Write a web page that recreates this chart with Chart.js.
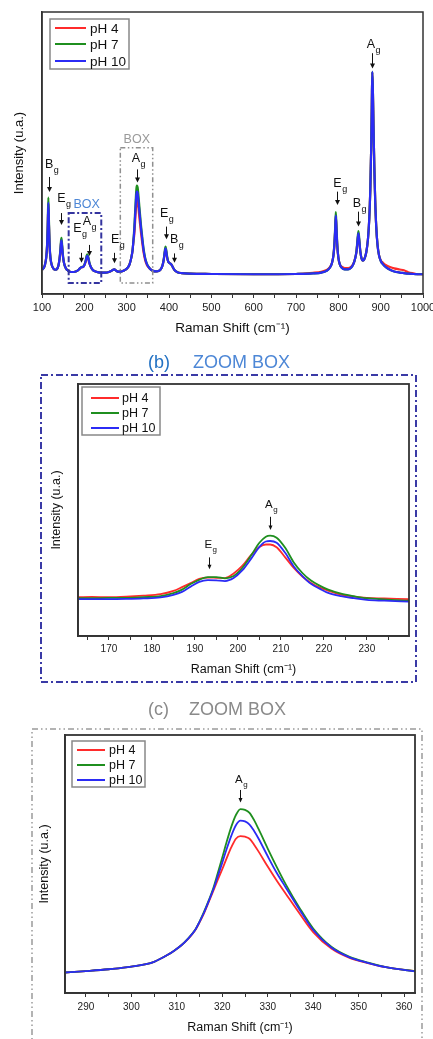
<!DOCTYPE html>
<html><head><meta charset="utf-8">
<script src="https://cdn.jsdelivr.net/npm/chart.js@4.4.1/dist/chart.umd.min.js"></script>
<style>
html,body{margin:0;padding:0;background:#fff}
body{width:433px;height:1039px;overflow:hidden;position:relative;font-family:"Liberation Sans",Arial,sans-serif}
canvas{position:absolute;left:0}
.t{position:absolute;font-size:18px;line-height:20px;white-space:nowrap;z-index:2}
</style>
</head><body>
<canvas id="ca" width="433" height="345" style="top:0"></canvas>
<canvas id="cb" width="433" height="345" style="top:345px"></canvas>
<canvas id="cc" width="433" height="349" style="top:690px"></canvas>
<div class="t" style="left:148px;top:352px;color:#2271c3">(b)</div>
<div class="t" style="left:193px;top:352px;color:#4d87d6">ZOOM BOX</div>
<div class="t" style="left:148px;top:699px;color:#8a8a8a">(c)</div>
<div class="t" style="left:189px;top:699px;color:#8a8a8a">ZOOM BOX</div>
<script>
// ---------- DATA ----------
const seriesLabels = ['pH 4', 'pH 7', 'pH 10'];
const xTitle = 'Raman Shift (cm\u207B\u00B9)';
const yTitle = 'Intensity (u.a.)';

// Panel (a): full spectrum
const shiftA = [100,104,107,110,112,113.5,115,116.5,118,120,
  123,127,132,136,139,141.5,143.5,145,146,147.5,
  149.5,152,156,162,170,178,184,189,193,197,
  200,203,205.5,207,209,212,216,221,228,238,
  250,258,264,268,271,275,280,286,292,298,
  303,307,311,314,316,318,320,322,323,324,
  325,326,328,330,332,334,337,340,344,348,
  352,356,362,370,377,382,385.5,388,390,391.8,
  393.5,395.5,398,401,404,407,410,414,420,430,
  450,500,600,700,740,760,772,780,785,788.5,
  790.5,792.5,794,795.5,797.5,800,803.5,808,815,823,
  830,835.5,840,843,845.5,847.5,849.5,852,855,858,
  862,866,870,873,875.5,877.5,879,880.2,881.5,883,
  885,887,889.5,892.5,896,900,906,913,922,932,
  945,955,965,978,990,1000];
const pH4_A = [8.6,9.2,10.4,13.0,17.0,23.3,32.0,24.0,16.7,12.6,
  10.3,9.0,8.6,9.0,10.2,12.5,15.3,18.0,18.8,16.6,
  13.2,11.0,9.2,8.2,7.8,7.9,8.3,9.0,9.5,9.6,
  10.2,11.4,12.9,13.3,12.7,10.8,9.4,8.4,7.9,7.6,
  7.6,7.8,8.2,8.6,8.7,8.3,7.9,7.9,8.2,8.7,
  9.4,10.6,12.9,15.5,18.7,21.0,25.7,30.6,32.4,33.3,
  33.2,32.7,30.2,27.1,24.2,21.5,17.9,14.7,11.8,10.2,
  9.4,8.8,8.2,8.0,8.3,9.1,10.6,12.5,14.6,16.0,
  14.9,13.0,11.6,11.0,10.7,10.1,9.2,8.3,7.7,7.4,
  7.2,7.1,7.0,7.1,7.5,7.9,8.5,9.5,11.0,13.8,
  16.8,22.2,27.3,23.2,17.0,13.0,10.5,9.7,9.2,9.2,
  9.6,10.7,12.8,15.1,19.0,21.3,18.6,15.0,12.5,11.8,
  12.6,14.8,19.5,26.5,37.0,51.0,66.0,78.5,72.8,60.0,
  45.0,33.5,24.0,17.5,13.8,12.0,11.0,10.2,9.6,9.1,
  8.7,8.4,7.7,7.3,7.0,7.0];
const pH7_A = [8.6,9.2,10.4,13.0,17.5,24.5,34.2,25.5,17.5,13.0,
  10.3,9.0,8.6,9.0,10.2,12.5,16.0,19.0,19.9,17.5,
  13.8,11.0,9.2,8.2,7.8,7.9,8.3,9.0,9.6,9.7,
  10.3,11.8,13.6,14.1,13.4,11.2,9.4,8.4,7.9,7.6,
  7.6,7.8,8.2,8.6,8.7,8.3,7.9,7.9,8.2,8.7,
  9.4,10.6,12.9,15.7,19.1,23.5,29.2,35.1,37.3,38.4,
  38.2,37.7,34.6,31.0,27.5,24.2,19.9,16.0,12.6,10.7,
  9.6,8.8,8.2,8.0,8.3,9.1,10.6,12.8,15.3,16.8,
  15.6,13.4,11.6,11.0,10.7,10.1,9.2,8.3,7.7,7.4,
  7.2,7.1,7.0,7.1,7.3,7.6,8.2,9.3,11.0,13.8,
  17.5,23.5,29.0,24.5,17.8,13.0,10.5,9.3,8.7,8.7,
  9.3,10.6,12.8,15.5,19.8,22.3,19.5,15.0,12.5,11.8,
  12.6,14.8,19.5,26.5,37.0,51.0,66.0,78.8,73.0,60.0,
  45.0,33.5,24.0,17.5,13.8,11.8,10.4,9.4,8.6,8.0,
  7.6,7.4,7.2,7.1,7.0,7.0];
const pH10_A = [8.6,9.2,10.4,13.0,17.0,23.5,32.4,24.2,16.8,12.6,
  10.3,9.0,8.6,9.0,10.2,12.5,15.4,18.2,19.0,16.8,
  13.3,11.0,9.2,8.2,7.8,7.9,8.3,9.0,9.5,9.6,
  10.2,11.5,13.1,13.5,12.9,10.9,9.4,8.4,7.9,7.6,
  7.6,7.8,8.2,8.6,8.7,8.3,7.9,7.9,8.2,8.7,
  9.4,10.6,12.9,15.6,18.9,22.4,27.8,33.3,35.3,36.3,
  36.2,35.6,32.8,29.4,26.2,23.1,19.1,15.5,12.3,10.5,
  9.5,8.8,8.2,8.0,8.3,9.1,10.6,12.5,14.8,16.2,
  15.1,13.0,11.6,11.0,10.7,10.1,9.2,8.3,7.7,7.4,
  7.2,7.1,7.0,7.1,7.3,7.6,8.2,9.3,11.0,13.8,
  17.0,22.6,27.8,23.6,17.2,13.0,10.5,9.3,8.7,8.7,
  9.3,10.6,12.8,15.1,19.2,21.5,18.8,15.0,12.5,11.8,
  12.6,14.8,19.5,26.5,37.0,51.0,66.0,78.8,73.0,60.0,
  45.0,33.5,24.0,17.5,13.8,11.8,10.4,9.4,8.6,8.0,
  7.6,7.4,7.2,7.1,7.0,7.0];

// Panel (b): zoom 163-240 cm-1
const shiftB = [163,166,170,174,178,182,185,187,189,191,193,195,197,199,201,203,205,206.5,207.5,209,211,213,215,217,219,221,224,227,230,234,240];
const pH4_B  = [15.4,15.5,15.4,15.6,16.0,16.6,17.9,19.4,21.0,22.7,23.2,23.1,23.0,24.8,27.8,32.0,35.3,36.3,36.3,35.2,31.2,27.0,23.6,21.0,19.2,18.0,16.4,15.6,15.1,14.9,14.6];
const pH7_B  = [15.0,15.0,15.1,15.1,15.4,15.8,17.0,18.4,20.6,22.3,23.4,23.4,22.9,23.8,27.0,31.8,37.0,39.4,39.8,39.0,35.0,29.2,25.0,22.0,20.0,18.4,16.8,15.8,15.0,14.5,14.0];
const pH10_B = [14.6,14.6,14.6,14.7,14.9,15.3,16.3,17.5,19.6,21.5,22.2,22.1,21.8,23.0,26.0,30.5,35.4,37.5,37.7,37.0,33.0,27.6,23.8,20.7,18.8,17.1,15.8,15.0,14.3,14.0,13.6];

// Panel (c): zoom 285-362 cm-1
const shiftC = [285,290,295,300,305,308,309.5,311,312.5,314,315,316,317,318,319,320,321,322,323,324,325,326,327,328,330,332,334,337,340,344,348,352,356,363];
const pH4_C  = [7.9,8.5,9.2,10.2,12.1,14.8,16.5,18.5,21.0,24.2,27.4,31.0,35.2,39.5,43.8,48.0,52.4,56.5,59.8,60.8,60.6,59.8,57.5,54.8,49.0,43.5,38.4,30.8,23.6,17.2,13.6,11.6,10.0,8.3];
const pH7_C  = [7.9,8.5,9.2,10.2,12.1,14.8,16.5,18.5,21.2,24.4,27.7,31.5,35.8,40.5,46.4,52.5,58.8,64.5,69.0,71.3,71.0,69.8,67.0,63.5,56.0,48.8,42.0,33.0,25.0,17.9,14.0,11.8,10.0,8.3];
const pH10_C = [7.9,8.5,9.2,10.2,12.1,14.8,16.5,18.5,21.1,24.3,27.6,31.2,35.5,40.0,45.2,50.5,56.0,61.0,65.0,66.8,66.5,65.3,62.8,59.8,53.0,46.5,40.8,32.3,24.4,17.6,13.8,11.7,10.0,8.2];

// Peak labels (label anchor, arrow x, arrow top, arrow tip) in data units
const peaksA = [
  {t:'B', lx:107.1, ly:44.7, x:115.8, top:41.5, tip:36.2},
  {t:'E', lx:136.1, ly:32.7, x:144.9, top:28.7, tip:24.5},
  {t:'E', lx:173.9, ly:22.0, x:191.4, top:14.6, tip:11.1},
  {t:'A', lx:196.1, ly:24.5, x:210.3, top:17.4, tip:13.5},
  {t:'E', lx:263.0, ly:18.0, x:270.1, top:14.6, tip:10.9},
  {t:'A', lx:311.9, ly:46.9, x:325.1, top:44.2, tip:39.5},
  {t:'E', lx:378.7, ly:27.4, x:392.2, top:23.9, tip:19.4},
  {t:'B', lx:402.4, ly:18.0, x:412.5, top:14.4, tip:11.1},
  {t:'E', lx:788.1, ly:38.1, x:796.1, top:36.3, tip:31.6},
  {t:'B', lx:833.9, ly:31.0, x:847.2, top:29.2, tip:23.9},
  {t:'A', lx:867.0, ly:87.1, x:880.2, top:85.4, tip:80.0}
];
const peaksB = [
  {t:'E', lx:192.2, ly:34.8, x:193.2, top:31.2, tip:26.5},
  {t:'A', lx:206.3, ly:50.7, x:207.4, top:47.3, tip:42.1}
];
const peaksC = [
  {t:'A', lx:322.8, ly:81.5, x:323.9, top:78.7, tip:73.8}
];
// zoom boxes drawn on panel (a), data units
const zoomBoxes = [
  {x0:163, x1:240, y0:3.9, y1:28.7, lx:205.6, ly:30.4, kind:'b'},
  {x0:285, x1:361.5, y0:3.9, y1:51.9, lx:323.9, ly:53.7, kind:'c'}
];

// ---------- RENDERING ----------
const FONT = '"Liberation Sans", Arial, Helvetica, sans-serif';
Chart.defaults.font.family = FONT;
Chart.defaults.color = '#222';
const COLORS = ['#ff2b2b', '#1f8f1f', '#2b2bf5'];
const BOXSTYLE = {
  b: {color:'#34349f', lw:2, dash:[6,2.5,2,2.5], text:'#4d87d6'},
  c: {color:'#8f8f8f', lw:1.5, dash:[5,2.5,1.5,2.5,1.5,2.5], text:'#999999'}
};

function makeDeco(cfg) {
  return {
    id: 'deco',
    beforeDraw(chart) {
      if (!cfg.outer) return;
      const c = chart.ctx, o = cfg.outer;
      c.save(); c.strokeStyle = o.color; c.lineWidth = o.lw; c.setLineDash(o.dash);
      c.strokeRect(o.rect[0], o.rect[1], o.rect[2], o.rect[3]); c.restore();
    },
    afterDraw(chart) {
      const ctx = chart.ctx, a = chart.chartArea, xs = chart.scales.x, ys = chart.scales.y;
      ctx.save();
      ctx.setLineDash([]);
      ctx.strokeStyle = '#333'; ctx.lineWidth = cfg.frameW;
      ctx.strokeRect(a.left, a.top, a.right - a.left, a.bottom - a.top);
      (cfg.boxes || []).forEach(b => {
        const st = BOXSTYLE[b.kind];
        const x0 = xs.getPixelForValue(b.x0), x1 = xs.getPixelForValue(b.x1);
        const y0 = ys.getPixelForValue(b.y0), y1 = ys.getPixelForValue(b.y1);
        ctx.strokeStyle = st.color; ctx.lineWidth = st.lw; ctx.setLineDash(st.dash);
        ctx.strokeRect(x0, y1, x1 - x0, y0 - y1);
        ctx.setLineDash([]);
        ctx.fillStyle = st.text; ctx.font = '12.5px ' + FONT;
        ctx.textAlign = 'center'; ctx.textBaseline = 'alphabetic';
        ctx.fillText('BOX', xs.getPixelForValue(b.lx), ys.getPixelForValue(b.ly));
      });
      ctx.textAlign = 'left';
      (cfg.peaks || []).forEach(p => {
        const ax = Math.round(xs.getPixelForValue(p.x)) + 0.5;
        const top = ys.getPixelForValue(p.top), tip = ys.getPixelForValue(p.tip);
        ctx.strokeStyle = '#111'; ctx.fillStyle = '#111'; ctx.lineWidth = 1;
        ctx.beginPath(); ctx.moveTo(ax, top); ctx.lineTo(ax, tip - 3); ctx.stroke();
        const hw = cfg.headW;
        ctx.beginPath(); ctx.moveTo(ax - hw, tip - cfg.headH); ctx.lineTo(ax + hw, tip - cfg.headH);
        ctx.lineTo(ax, tip); ctx.closePath(); ctx.fill();
        const lx = xs.getPixelForValue(p.lx), ly = ys.getPixelForValue(p.ly);
        ctx.font = cfg.peakFont + 'px ' + FONT; ctx.textBaseline = 'alphabetic';
        ctx.fillText(p.t, lx, ly);
        const w = ctx.measureText(p.t).width;
        ctx.font = cfg.subFont + 'px ' + FONT;
        ctx.fillText('g', lx + w + 0.5, ly + cfg.subDrop);
      });
      const lg = cfg.legend;
      const bx = a.left + lg.dx, by = a.top + lg.dy;
      ctx.fillStyle = '#fff'; ctx.fillRect(bx, by, lg.w, lg.h);
      ctx.strokeStyle = '#888'; ctx.lineWidth = 1.5; ctx.strokeRect(bx, by, lg.w, lg.h);
      chart.data.datasets.forEach((ds, i) => {
        const yy = by + lg.rows[i];
        ctx.strokeStyle = ds.borderColor; ctx.lineWidth = 2;
        ctx.beginPath(); ctx.moveTo(bx + lg.l0, yy); ctx.lineTo(bx + lg.l1, yy); ctx.stroke();
        ctx.fillStyle = '#111'; ctx.font = lg.font + 'px ' + FONT; ctx.textBaseline = 'middle';
        ctx.fillText(ds.label, bx + lg.tx, yy + 1);
      });
      ctx.restore();
    }
  };
}

function build(id, cfg) {
  const W = 433;
  const datasets = cfg.series.map((ys, i) => ({
    label: seriesLabels[i],
    data: cfg.xs.map((x, j) => ({x: x, y: ys[j]})),
    borderColor: COLORS[i], backgroundColor: COLORS[i],
    borderWidth: cfg.lw, pointRadius: 0, fill: false,
    cubicInterpolationMode: 'monotone', order: 3 - i
  }));
  const ls = cfg.labelStep;
  return new Chart(document.getElementById(id), {
    type: 'line',
    data: {datasets},
    options: {
      responsive: false, animation: false, events: [],
      layout: {padding: {left: 0, top: cfg.area.t, right: W - cfg.area.r, bottom: 0}},
      plugins: {legend: {display: false}, tooltip: {enabled: false}},
      scales: {
        x: {
          type: 'linear', min: cfg.xmin, max: cfg.xmax,
          ticks: {stepSize: cfg.step, autoSkip: false, maxRotation: 0, includeBounds: false,
            font: {size: cfg.tickFont}, color: '#222', padding: cfg.tickPad,
            callback: v => { const r = Math.abs(v % ls); return (r < 1e-6 || Math.abs(r - ls) < 1e-6) ? String(Math.round(v)) : ''; }},
          grid: {display: true, drawOnChartArea: false, drawTicks: true, tickLength: 4, color: '#333', tickColor: '#333', tickWidth: 1},
          border: {display: true, color: '#333', width: cfg.frameW},
          title: {display: true, text: xTitle, font: {size: cfg.titleFont}, color: '#111', padding: {top: 0, bottom: cfg.xTitlePad}},
          afterFit: s => { s.height = cfg.H - cfg.area.b; s.paddingLeft = 0; s.paddingRight = 0; }
        },
        y: {
          type: 'linear', min: 0, max: 100,
          ticks: {display: false},
          grid: {display: false},
          border: {display: true, color: '#333', width: cfg.frameW},
          title: {display: true, text: yTitle, font: {size: cfg.yTitleFont}, color: '#111', padding: {top: cfg.yTitlePad, bottom: 0}},
          afterFit: s => { s.width = cfg.area.l; s.paddingTop = 0; s.paddingBottom = 0; }
        }
      }
    },
    plugins: [makeDeco(cfg)]
  });
}

build('ca', {
  xs: shiftA, series: [pH4_A, pH7_A, pH10_A], lw: 2.2,
  xmin: 100, xmax: 1000, step: 50, labelStep: 100,
  H: 345, area: {l: 42, t: 12, r: 423, b: 294},
  tickFont: 11, tickPad: 3, titleFont: 13.5, xTitlePad: 9, yTitleFont: 13, yTitlePad: 12,
  frameW: 1.5, peaks: peaksA, peakFont: 12.5, subFont: 9, subDrop: 5, headW: 2.5, headH: 5,
  boxes: zoomBoxes,
  legend: {dx: 8, dy: 7, w: 79, h: 50, rows: [9, 25, 42], l0: 5, l1: 36, tx: 40, font: 13.5}
});
build('cb', {
  xs: shiftB, series: [pH4_B, pH7_B, pH10_B], lw: 1.8,
  xmin: 162.8, xmax: 239.8, step: 5, labelStep: 10,
  H: 345, area: {l: 78, t: 39, r: 409, b: 291},
  tickFont: 10, tickPad: 3, titleFont: 12.5, xTitlePad: 12.5, yTitleFont: 12.5, yTitlePad: 49,
  frameW: 1.8, peaks: peaksB, peakFont: 11.5, subFont: 8, subDrop: 4, headW: 2, headH: 4.5,
  legend: {dx: 4, dy: 3, w: 78, h: 48, rows: [11, 26, 41], l0: 9, l1: 37, tx: 40, font: 12.5},
  outer: {rect: [41, 30, 375, 307], color: '#3a3aa6', lw: 2, dash: [7, 3, 2, 3]}
});
build('cc', {
  xs: shiftC, series: [pH4_C, pH7_C, pH10_C], lw: 1.8,
  xmin: 285.4, xmax: 362.4, step: 5, labelStep: 10,
  H: 349, area: {l: 65, t: 45, r: 415, b: 303},
  tickFont: 10, tickPad: 4, titleFont: 12.5, xTitlePad: 3.5, yTitleFont: 12.5, yTitlePad: 37,
  frameW: 1.8, peaks: peaksC, peakFont: 11.5, subFont: 8, subDrop: 4, headW: 2, headH: 4.5,
  legend: {dx: 7, dy: 6, w: 73, h: 46, rows: [9, 24, 39], l0: 5, l1: 33, tx: 37, font: 12.5},
  outer: {rect: [32, 39, 390, 330], color: '#9a9a9a', lw: 1.5, dash: [6, 3, 1.5, 3, 1.5, 3]}
});
</script>
</body></html>
